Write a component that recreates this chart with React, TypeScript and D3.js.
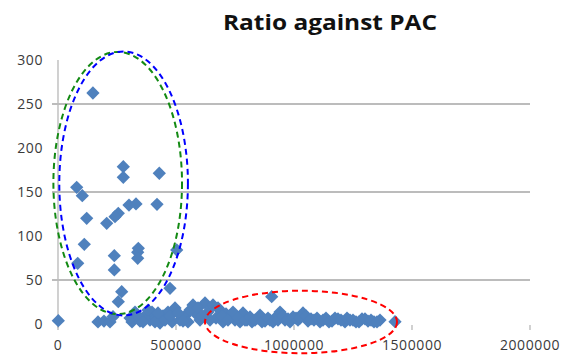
import React from "react";
import * as d3 from "d3";

const W = 564;
const H = 355;

const title = "Ratio against PAC";
const yTicks = [0, 50, 100, 150, 200, 250, 300];
const yGrid = [50, 150, 250];
const xTicks = [0, 500000, 1000000, 1500000, 2000000];

// Scatter points: PAC (x) and ratio (y)
const pacValues = [
  148000, 276700, 276700, 429200, 79200, 103000, 300800, 330500, 419500, 121600,
  255500, 241500, 206400, 111400, 340300, 238600, 337700, 337700, 503000, 83500,
  238600, 474600, 269900, 255500, 1300, 905500,
  169500, 194900, 220300, 233100, 313600, 326300, 347500, 368600, 389800, 398300,
  415300, 432200, 444900, 466100, 483100, 495800, 516900, 538100, 550800, 572000,
  584700, 601700, 622900, 635600, 656800, 669500, 686400, 699200, 711900, 728800,
  750000, 771200, 783900, 800800, 822000, 847500, 855900, 877100, 898300, 919500,
  940700, 961900, 983100, 1008500, 1038100, 1059300, 1084700, 1110200, 1135600, 1161000,
  1186400, 1216100, 1237300, 1262700, 1288100, 1313600, 1339000, 1364400, 1428000,
  305100, 339000, 360200, 381400, 411000, 423700, 453400, 474600, 508500, 529700,
  559300, 593200, 610200, 644100, 678000, 694900, 720300, 741500, 762700, 792400,
  813600, 834700, 864400, 889800, 911000, 932200, 953400, 974600, 995800, 1016900,
  1025400, 1050800, 1072000, 1097500, 1122900, 1148300, 1173700, 1199200, 1224600, 1250000,
  1275400, 1300900, 1326300, 1351700,
];
const ratioValues = [
  262.5, 178.8, 166.7, 171.3, 155.3, 145.8, 135.2, 136.4, 136.0, 120.1,
  125.8, 121.9, 114.4, 90.6, 86.0, 77.6, 81.5, 74.7, 84.1, 69.0,
  61.4, 40.6, 36.7, 25.3, 3.8, 31.0,
  2.3, 3.4, 2.3, 8.3, 2.3, 13.6, 3.4, 9.1, 4.5, 13.6,
  6.8, 1.1, 9.1, 13.6, 2.3, 18.2, 4.5, 9.1, 2.3, 21.6,
  11.4, 4.5, 23.9, 13.6, 21.6, 6.8, 15.9, 2.3, 11.4, 9.1,
  4.5, 2.3, 12.5, 4.5, 2.3, 6.8, 10.2, 3.4, 4.5, 6.8,
  13.6, 4.5, 2.3, 6.8, 12.5, 3.4, 4.5, 2.3, 6.8, 3.4,
  5.7, 2.3, 4.5, 2.3, 5.7, 3.4, 2.3, 4.5, 2.6,
  6.8, 9.1, 2.3, 15.9, 2.3, 12.5, 4.5, 9.1, 12.5, 3.4,
  15.9, 18.2, 9.1, 4.5, 18.2, 9.1, 4.5, 13.6, 6.8, 4.5,
  8.0, 4.5, 2.3, 6.8, 2.3, 4.5, 9.1, 5.7, 8.0, 4.5,
  6.8, 9.1, 5.7, 6.8, 4.5, 2.3, 6.8, 4.5, 6.8, 4.5,
  2.3, 5.7, 4.5, 2.3,
];

// Annotation ellipses in data units
const ellipses = [
  { c: "#138a13", cx: 253000, cy: 160.2, rx: 272500, ry: 149 },
  { c: "#0000ff", cx: 278000, cy: 159.7, rx: 272500, ry: 150 },
  { c: "#ff0000", cx: 1029700, cy: 2.3, rx: 406800, ry: 35.5 },
];

const x = d3.scaleLinear().domain([0, 2000000]).range([58, 530]);
const y = d3.scaleLinear().domain([0, 300]).range([324, 60]);

const diamond = d3.symbol(d3.symbolSquare, 88)() as string;

export default function App() {
  const font = "'Open Sans', 'DejaVu Sans', sans-serif";
  return (
    <svg
      width={W}
      height={H}
      style={{ position: "absolute", left: 0, top: 0, background: "#fff" }}
    >
      <text
        x={330}
        y={30}
        textAnchor="middle"
        fontFamily={font}
        fontWeight="bold"
        fontSize={21}
        textLength={214}
        lengthAdjust="spacingAndGlyphs"
        fill="#111"
      >
        {title}
      </text>
      {yGrid.map((v) => (
        <line key={v} x1={52} x2={530} y1={y(v)} y2={y(v)} stroke="#a6a6a6" strokeWidth={1.6} />
      ))}
      <line x1={x(0)} x2={x(0)} y1={y(300)} y2={y(0) + 4} stroke="#bdbdbd" strokeWidth={1.4} />
      {xTicks.map((t) => (
        <line key={t} x1={x(t)} x2={x(t)} y1={y(0) + 1} y2={y(0) + 6} stroke="#bdbdbd" strokeWidth={1.4} />
      ))}
      {yTicks.map((t) => (
        <text
          key={t}
          x={43}
          y={y(t) + 5}
          textAnchor="end"
          fontFamily={font}
          fontSize={14}
          letterSpacing={0.6}
          fill="#3a3a3a"
        >
          {t}
        </text>
      ))}
      {xTicks.map((t) => (
        <text
          key={t}
          x={x(t)}
          y={350}
          textAnchor="middle"
          fontFamily={font}
          fontSize={14}
          letterSpacing={0.6}
          fill="#3a3a3a"
        >
          {t}
        </text>
      ))}
      {pacValues.map((p, i) => (
        <path
          key={i}
          d={diamond}
          transform={`translate(${x(p)},${y(ratioValues[i])}) rotate(45)`}
          fill="#4f81bd"
        />
      ))}
      {ellipses.map((e, i) => (
        <ellipse
          key={i}
          cx={x(e.cx)}
          cy={y(e.cy)}
          rx={x(e.rx) - x(0)}
          ry={y(0) - y(e.ry)}
          fill="none"
          stroke={e.c}
          strokeWidth={2}
          strokeDasharray="6 4"
        />
      ))}
    </svg>
  );
}
